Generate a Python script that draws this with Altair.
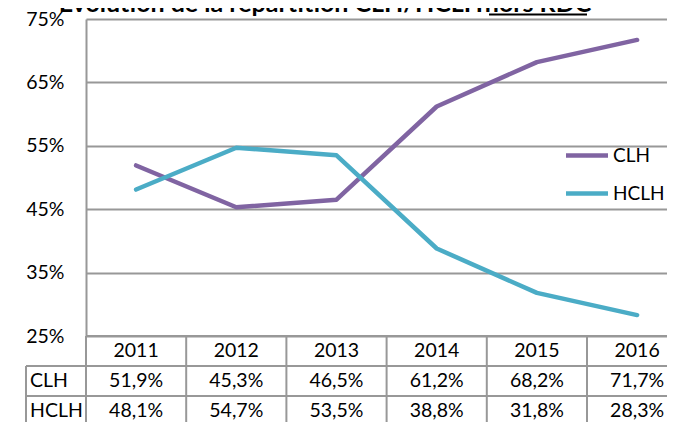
import altair as alt
import pandas as pd

# ---- data ----
years = ["2011", "2012", "2013", "2014", "2015", "2016"]
series_names = ["CLH", "HCLH"]
clh = [51.9, 45.3, 46.5, 61.2, 68.2, 71.7]
hclh = [48.1, 54.7, 53.5, 38.8, 31.8, 28.3]
y_ticks = [25, 35, 45, 55, 65, 75]
colors = ["#8064A2", "#4BACC6"]
title_main = "Évolution de la répartition CLH/HCLH"
title_underlined = "hors RDC"

# ---- layout / style constants ----
FONT = "Lato"
FS = 19.5
GRID = "#989898"
COL_W = 100.2           # pixel width of one year column
PLOT_H = 317            # pixel height of the line-chart area
ROW_H = 30              # pixel height of one table row
LABEL_COL = 60 / COL_W  # width of the row-label column (column units)
N = len(years)

x_scale = alt.Scale(domain=[0, N], range=[0, COL_W * N], nice=False, zero=False)
y_scale = alt.Scale(domain=[25, 75], range=[PLOT_H, 0], nice=False, zero=False)
t_scale = alt.Scale(domain=[0, 3], range=[PLOT_H, PLOT_H + 3 * ROW_H], nice=False, zero=False)

# line data
line_rows = []
for s, vals in zip(series_names, [clh, hclh]):
    for i, (yr, v) in enumerate(zip(years, vals)):
        line_rows.append({"year": yr, "xc": i + 0.5, "series": s, "value": v})
df_lines = pd.DataFrame(line_rows)

# table cell texts
def fmt(v):
    return f"{v:.1f}".replace(".", ",") + "%"

cells = []
for i, yr in enumerate(years):
    cells.append({"xc": i + 0.5, "r": 0.5, "t": yr})
for k, vals in enumerate([clh, hclh]):
    for i, v in enumerate(vals):
        cells.append({"xc": i + 0.5, "r": 1.5 + k, "t": fmt(v)})
df_cells = pd.DataFrame(cells)
df_rowlab = pd.DataFrame({"xc": [-LABEL_COL + 0.04] * 2, "r": [1.5, 2.5], "t": series_names})

# table grid lines
hl = [{"x0": 0, "x1": N, "r": 0}] + [{"x0": -LABEL_COL, "x1": N, "r": r} for r in (1, 2, 3)]
vl = [{"c": c, "r0": 0, "r1": 3.5} for c in range(N + 1)] + [{"c": -LABEL_COL, "r0": 1, "r1": 3.5}]
df_hl = pd.DataFrame(hl)
df_vl = pd.DataFrame(vl)

lines = alt.Chart(df_lines).mark_line(strokeWidth=4.5, strokeCap="round", strokeJoin="round").encode(
    x=alt.X("xc:Q", scale=x_scale, axis=None),
    y=alt.Y("value:Q", scale=y_scale, title=None,
            axis=alt.Axis(values=y_ticks, labelExpr="datum.value + '%'", grid=True,
                          gridColor=GRID, gridWidth=2, domainColor=GRID, domainWidth=2,
                          ticks=False, labelPadding=22, labelFont=FONT, labelFontSize=FS,
                          labelColor="black")),
    color=alt.Color("series:N", scale=alt.Scale(domain=series_names, range=colors),
                    legend=alt.Legend(orient="none", legendX=481, legendY=116.5, title=None,
                                      symbolType="M-1.2,0L1.2,0", symbolSize=1225,
                                      symbolStrokeWidth=4.5, labelFont=FONT, labelFontSize=19,
                                      labelColor="black", labelOffset=6, rowPadding=8, padding=0)),
)

hrules = alt.Chart(df_hl).mark_rule(color=GRID, strokeWidth=2).encode(
    x=alt.X("x0:Q", scale=x_scale, axis=None), x2="x1:Q",
    y=alt.Y("r:Q", scale=t_scale, axis=None),
)
vrules = alt.Chart(df_vl).mark_rule(color=GRID, strokeWidth=2).encode(
    x=alt.X("c:Q", scale=x_scale, axis=None),
    y=alt.Y("r0:Q", scale=t_scale, axis=None), y2="r1:Q",
)
cell_text = alt.Chart(df_cells).mark_text(font=FONT, fontSize=FS, color="black",
                                          align="center", baseline="middle").encode(
    x=alt.X("xc:Q", scale=x_scale, axis=None),
    y=alt.Y("r:Q", scale=t_scale, axis=None),
    text="t:N",
)
row_labels = alt.Chart(df_rowlab).mark_text(font=FONT, fontSize=FS, color="black",
                                            align="left", baseline="middle").encode(
    x=alt.X("xc:Q", scale=x_scale, axis=None),
    y=alt.Y("r:Q", scale=t_scale, axis=None),
    text="t:N",
)

TFS = 25
title1 = alt.Chart(pd.DataFrame({"t": [title_main]})).mark_text(
    font=FONT, fontSize=TFS, fontWeight="bold", color="black", align="right", baseline="alphabetic"
).encode(text="t:N", x=alt.value(397), y=alt.value(-7))
title2 = alt.Chart(pd.DataFrame({"t": [title_underlined]})).mark_text(
    font=FONT, fontSize=TFS, fontWeight="bold", color="black", align="center", baseline="alphabetic"
).encode(text="t:N", x=alt.value(452), y=alt.value(-7))
underline = alt.Chart(pd.DataFrame({"a": [0]})).mark_rule(color="black", strokeWidth=2).encode(
    x=alt.value(403), x2=alt.value(501), y=alt.value(-4.5)
)

chart = alt.layer(
    hrules, vrules, lines, cell_text, row_labels, title1, title2, underline
).resolve_scale(y="independent").properties(
    width=581, height=403,
    autosize=alt.AutoSizeParams(type="none"),
    padding={"left": 78, "top": 11, "right": 0, "bottom": 0},
).configure_view(stroke=None)

chart.save("out.html", embed_options={"renderer": "svg", "actions": False})
